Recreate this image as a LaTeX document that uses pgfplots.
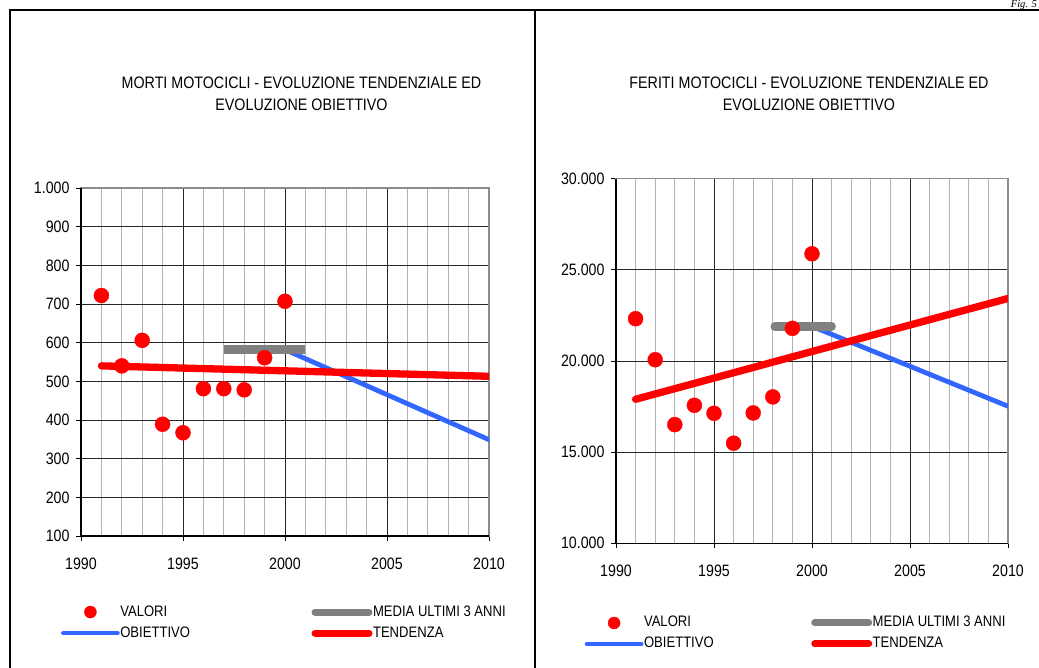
\documentclass[border=0pt]{standalone}
\usepackage{fontspec}
\setmainfont{Liberation Sans}[FakeStretch=0.86]
\newfontfamily\figfont{Liberation Serif}
\usepackage{pgfplots}
\pgfplotsset{compat=1.18}
\definecolor{objblue}{RGB}{51,102,255}
\definecolor{mediagray}{RGB}{128,128,128}
\definecolor{valred}{RGB}{255,0,0}

\pgfplotsset{
  mystyle/.style={
    scale only axis,
    xmin=1990, xmax=2010,
    xtick={1990,1995,2000,2005,2010},
    minor xtick={1991,1992,1993,1994,1996,1997,1998,1999,2001,2002,2003,2004,2006,2007,2008,2009},
    grid=both,
    major grid style={black!85, line width=0.8pt},
    minor grid style={black!30, line width=0.8pt},
    axis line style={black!45, line width=1.2pt},
    tick align=outside,
    major tick length=5pt, minor tick length=0pt,
    tick style={black, line width=0.8pt},
    xtick pos=left, ytick pos=left,
    /pgf/number format/assume math mode=true,
    tick label style={font=\fontsize{16.5}{19}\selectfont},
    x tick label style={/pgf/number format/1000 sep={}, yshift=-13pt},
    y tick label style={/pgf/number format/1000 sep={.}, xshift=-3pt},
    legend columns=2,
    legend cell align=left,
    legend image code/.code={\draw[mark repeat=2,mark phase=2,##1] plot coordinates {(0pt,0pt) (27pt,0pt) (54pt,0pt)};},
    after end axis/.code={\draw[black,line width=1.2pt] (rel axis cs:0,1) -- (rel axis cs:0,0) -- (rel axis cs:1,0);},
  },
  valori/.style={only marks, mark=*, mark options={fill=valred, draw=valred}, mark size=7.5pt},
  valorileg/.style={only marks, mark=*, mark options={fill=valred, draw=valred}, mark size=6pt},
  obiettivo/.style={no marks, objblue, line width=4.8pt, line cap=round},
  tendenza/.style={no marks, valred, line width=7.3pt, line cap=round},
  media/.style={no marks, mediagray, line width=8.5pt},
}

\begin{document}
\begin{tikzpicture}[x=1pt,y=1pt]
\useasboundingbox (0,0) rectangle (1039,668);

% frame
\draw[line width=2pt] (9,657.7) -- (1045,657.7);
\draw[line width=2pt] (10,658.7) -- (10,-5);
\draw[line width=2pt] (535,658.7) -- (535,-5);
\node[anchor=base east, inner sep=0pt, font=\figfont\itshape\fontsize{10.5}{10.5}\selectfont] at (1037,660.5) {Fig. 5};

% titles
\node[align=center, font=\fontsize{16.6}{22}\selectfont, inner sep=0pt] at (301.5,574.5) {MORTI MOTOCICLI - EVOLUZIONE TENDENZIALE ED\\EVOLUZIONE OBIETTIVO};
\node[align=center, font=\fontsize{16.6}{22}\selectfont, inner sep=0pt] at (809,574.5) {FERITI MOTOCICLI - EVOLUZIONE TENDENZIALE ED\\EVOLUZIONE OBIETTIVO};

% left chart
\begin{axis}[mystyle,
  at={(81pt,132pt)}, anchor=south west,
  width=408pt, height=348pt,
  ymin=100, ymax=1000, ytick={100,200,...,1000},
  legend style={draw=none, fill=none, inner sep=0pt, outer sep=0pt,
    font=\fontsize{15.2}{18}\selectfont,
    nodes={inner sep=0.5pt, text height=11pt, text depth=3pt},
    row sep=6pt,
    at={(-0.049,-0.197)}, anchor=north west,
    /tikz/every even column/.append style={column sep=121pt}},
]
\addlegendimage{valorileg}
\addlegendentry{VALORI}
\addlegendimage{mediagray, line width=7pt, line cap=round}
\addlegendentry{MEDIA ULTIMI 3 ANNI}
\addlegendimage{objblue, line width=4.8pt, line cap=round}
\addlegendentry{OBIETTIVO}
\addlegendimage{valred, line width=7pt, line cap=round}
\addlegendentry{TENDENZA}

\addplot[obiettivo, forget plot] coordinates {(2000,582) (2010,349)};
\addplot[valori, forget plot] coordinates {
(1991,722) (1992,540) (1993,606) (1994,389) (1995,367)
(1996,481) (1997,481) (1998,478) (1999,561) (2000,707)};
\addplot[tendenza, forget plot] coordinates {(1991,540) (2010,513)};
\addplot[media, line cap=butt, forget plot] coordinates {(1997,582) (2001,582)};
\end{axis}

% right chart
\begin{axis}[mystyle,
  at={(616pt,124.7pt)}, anchor=south west,
  width=392pt, height=364.6pt,
  ymin=10000, ymax=30000, ytick={10000,15000,20000,25000,30000},
  scaled y ticks=false,
  legend style={draw=none, fill=none, inner sep=0pt, outer sep=0pt,
    font=\fontsize{15.2}{18}\selectfont,
    nodes={inner sep=0.5pt, text height=11pt, text depth=3pt},
    row sep=6pt,
    at={(-0.0798,-0.198)}, anchor=north west,
    /tikz/every even column/.append style={column sep=97pt}},
]
\addlegendimage{valorileg}
\addlegendentry{VALORI}
\addlegendimage{mediagray, line width=7pt, line cap=round}
\addlegendentry{MEDIA ULTIMI 3 ANNI}
\addlegendimage{objblue, line width=4.8pt, line cap=round}
\addlegendentry{OBIETTIVO}
\addlegendimage{valred, line width=7pt, line cap=round}
\addlegendentry{TENDENZA}

\addplot[obiettivo, forget plot] coordinates {(2000,21900) (2010,17520)};
\addplot[valori, forget plot] coordinates {
(1991,22320) (1992,20070) (1993,16510) (1994,17570) (1995,17130)
(1996,15490) (1997,17150) (1998,18030) (1999,21790) (2000,25880)};
\addplot[tendenza, forget plot] coordinates {(1991,17900) (2010,23430)};
\addplot[media, line cap=round, forget plot] coordinates {(1998.1,21900) (2001,21900)};
\end{axis}
\end{tikzpicture}
\end{document}
